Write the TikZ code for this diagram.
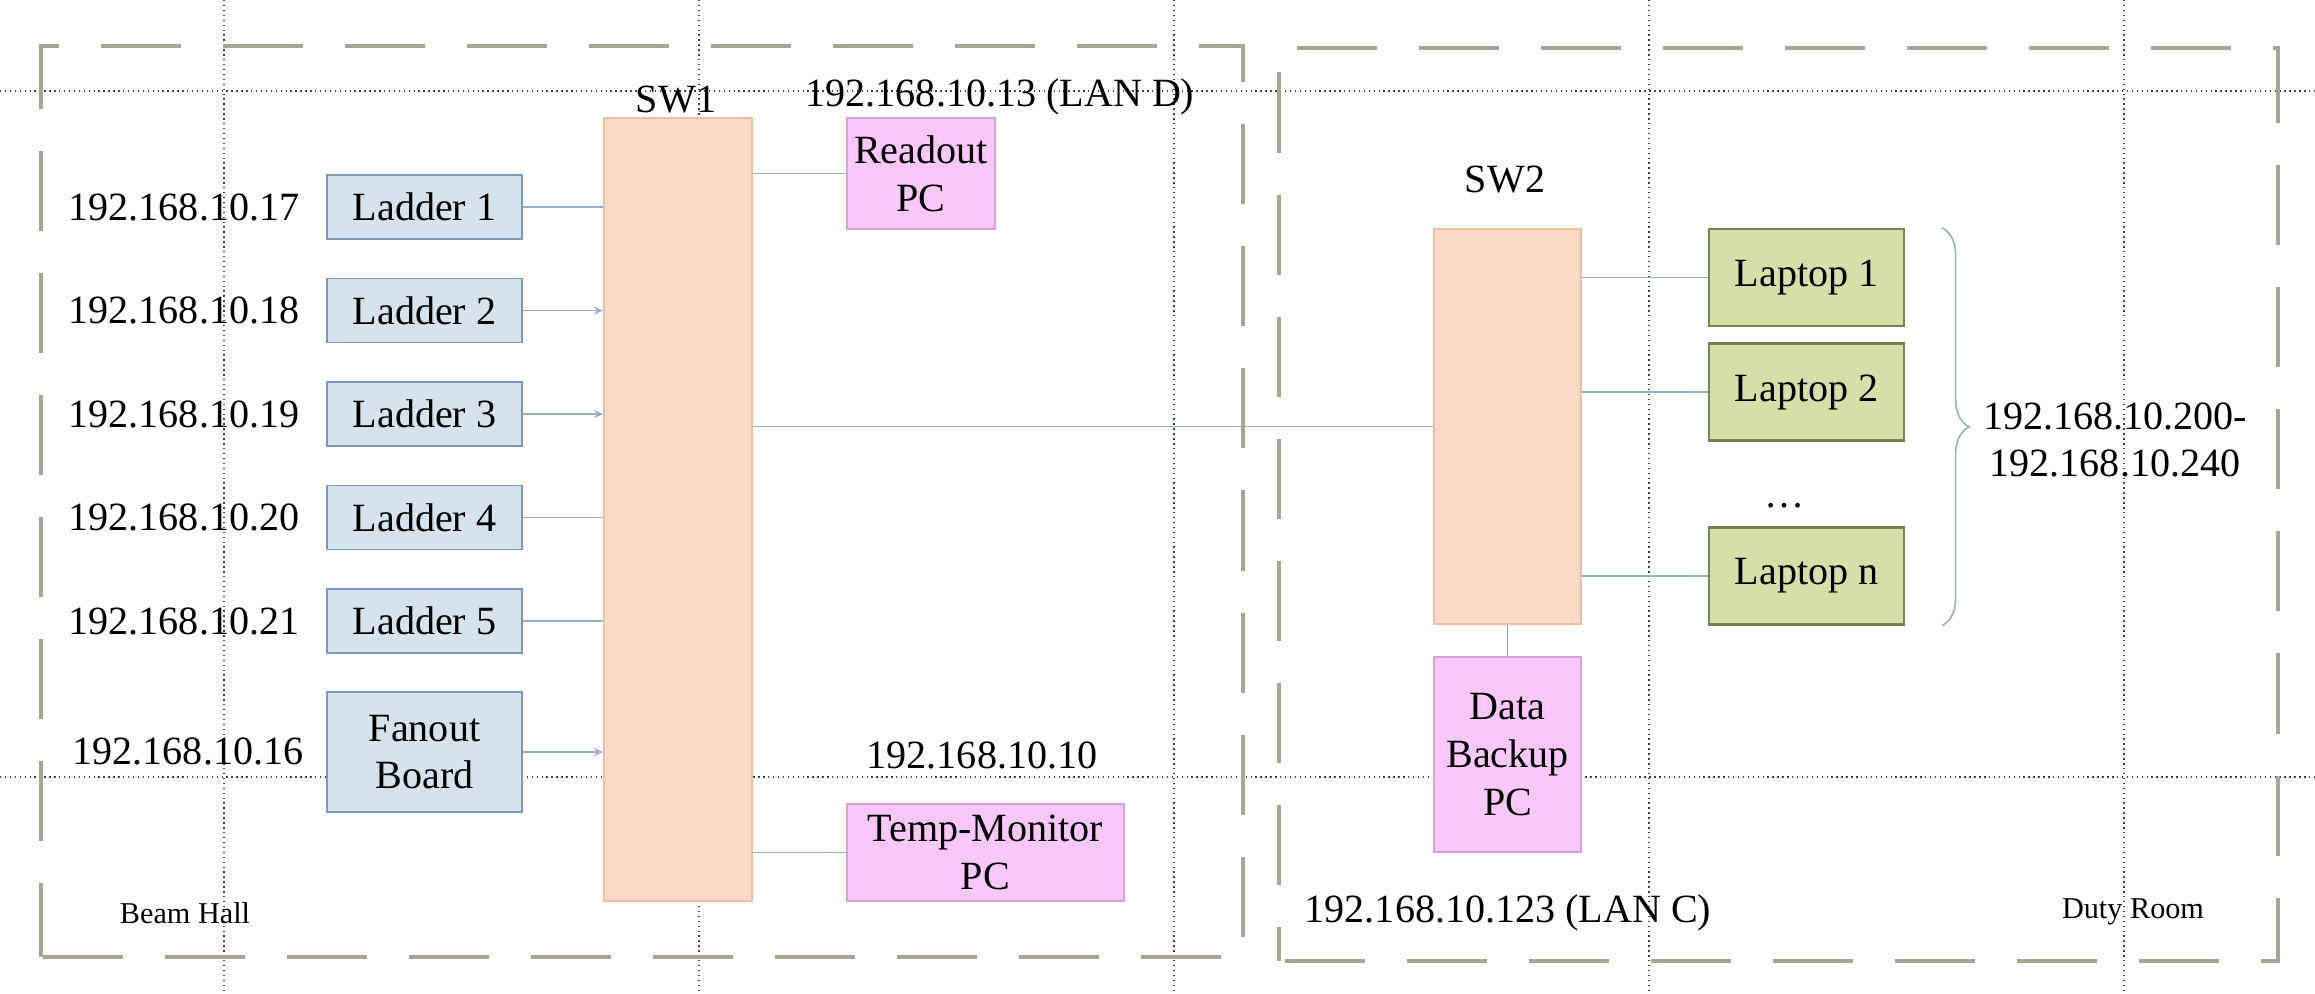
\documentclass[tikz,border=0pt]{standalone}
\usepackage{fontspec}
\setmainfont{Liberation Serif}
\usepackage{tikz}
\usetikzlibrary{arrows.meta,positioning,calc,decorations.pathreplacing}

\definecolor{roomline}{RGB}{168,165,146}
\definecolor{ladfill}{RGB}{212,227,237}
\definecolor{laddraw}{RGB}{125,152,180}
\definecolor{swfill}{RGB}{252,218,199}
\definecolor{swdraw}{RGB}{240,190,160}
\definecolor{pcfill}{RGB}{250,199,250}
\definecolor{pcdraw}{RGB}{218,160,218}
\definecolor{lapfill}{RGB}{213,223,167}
\definecolor{lapdraw}{RGB}{118,134,80}
\definecolor{linkblue}{RGB}{150,176,200}

\tikzset{
  guide/.style={densely dotted,line width=0.4pt,black!75},
  room/.style={roomline,line width=1.3pt,dash pattern=on 0.8cm off 0.42cm},
  roomname/.style={font=\fontsize{8.6}{10}\selectfont},
  ladbox/.style={draw=laddraw,fill=ladfill,line width=0.5pt,minimum width=1.95cm,minimum height=0.64cm,inner sep=0pt,align=center},
  swbox/.style={draw=swdraw,fill=swfill,line width=0.5pt,minimum width=1.48cm,inner sep=0pt},
  pcbox/.style={draw=pcdraw,fill=pcfill,line width=0.5pt,inner sep=0pt,align=center},
  lapbox/.style={draw=lapdraw,fill=lapfill,line width=0.6pt,minimum width=1.95cm,minimum height=0.97cm,inner sep=0pt},
  link/.style={linkblue,line width=0.4pt},
  backlink/.style={black!40,line width=0.4pt},
  tinytip/.style={-{Stealth[length=0.9mm,width=0.8mm]}},
  brace/.style={linkblue,line width=0.45pt,decorate,decoration={brace,amplitude=0.27cm}}
}

\begin{document}
\begin{tikzpicture}[x=0.01cm,y=-0.01cm,font=\fontsize{11.4}{13.6}\selectfont]
\useasboundingbox (0,0) rectangle (2315,994);
% page guides
\foreach \gx in {224,699,1174,1649,2124}
  \draw[guide] (\gx,0) -- (\gx,994);
\foreach \gy in {91,777}
  \draw[guide] (0,\gy) -- (2315,\gy);

% rooms
\draw[room,dash phase=0.06cm] (41,957) -- (41,46) -- (1243,46) -- (1243,957) -- cycle;
\draw[room,dash phase=0.46cm] (1279,961) -- (1279,48) -- (2278,48) -- (2278,961) -- cycle;
\node[roomname] (beam) at (185,913) {Beam Hall};
\node[roomname] (duty) at (2133,912) {Duty Room};

% switches
\node[swbox,minimum height=7.83cm] (sw1) at (678,509.5) {};
\node (sw1lbl) at (676,100) {SW1};
\node[swbox,minimum height=3.95cm,minimum width=1.47cm] (sw2) at (1507.5,426.5) {};
\node (sw2lbl) at (1505,180) {SW2};

% beam hall
\foreach \i/\ip in {1/17,2/18,3/19,4/20,5/21}{
  \node[ladbox] (lad\i) at (424.5,{207+103.5*(\i-1)}) {Ladder \i};
  \node (ip\i) at (184,{207+103.5*(\i-1)}) {192.168.10.\ip};
}
\node[ladbox,minimum height=1.2cm] (fan) at (424.5,752) {Fanout\\Board};
\node (ipfan) at (188,751) {192.168.10.16};
\foreach \i in {1,4,5}
  \draw[link] (lad\i.east) -- (lad\i.east -| sw1.west);
\foreach \i in {2,3}
  \draw[link,tinytip] (lad\i.east) -- (lad\i.east -| sw1.west);
\draw[link,tinytip] (fan.east) -- (fan.east -| sw1.west);

\node[pcbox,minimum width=1.48cm,minimum height=1.11cm] (readout) at (921,173.5) {Readout\\PC};
\node (ipread) at (1000,97) {192.168.10.13 (LAN D)};
\draw[link] (readout.west -| sw1.east) -- (readout.west);
\node[pcbox,minimum width=2.77cm,minimum height=0.97cm] (temp) at (985.5,852.5) {Temp-Monitor\\PC};
\node (iptemp) at (982,755) {192.168.10.10};
\draw[link] (temp.west -| sw1.east) -- (temp.west);

% duty room
\draw[link] (sw2.west -| sw1.east) -- (sw2.west);
\node[pcbox,minimum width=1.47cm,minimum height=1.95cm] (backup) at (1507.5,754.5) {Data\\Backup\\PC};
\node (ipbackup) at (1508,913) {192.168.10.123 (LAN C)};
\draw[backlink] (sw2.south) -- (backup.north);
\foreach \i/\y in {1/277.5,2/392,n/576}{
  \node[lapbox] (lap\i) at (1806.5,\y) {Laptop \i};
  \draw[link] (lap\i.west -| sw2.east) -- (lap\i.west);
}
\node[anchor=base] (more) at (1785,507) {\dots};
\draw[brace] ($(lap1.north east)+(37,0)$) -- ($(lapn.south east)+(37,0)$);
\node[align=center] (iprange) at (2115,440) {192.168.10.200-\\192.168.10.240};
\end{tikzpicture}
\end{document}
